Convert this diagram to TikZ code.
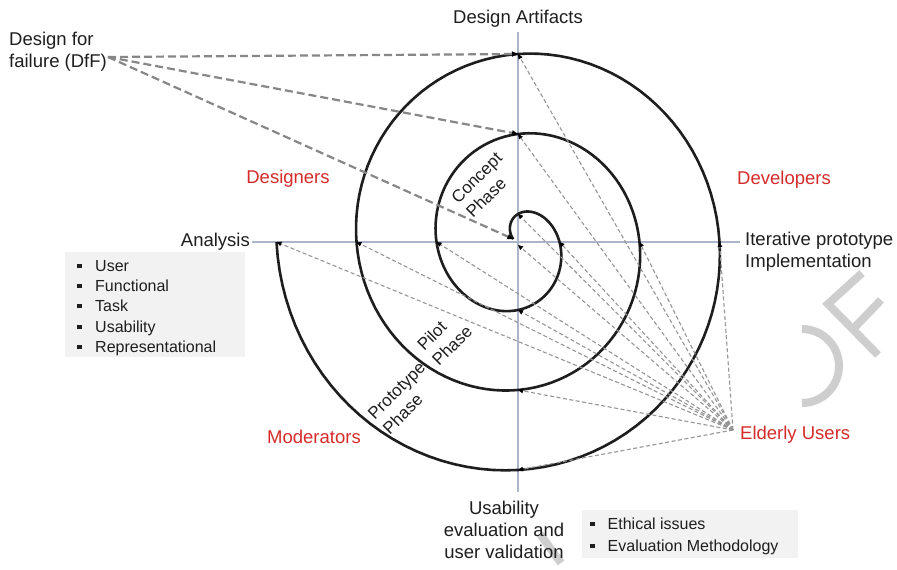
\documentclass[tikz,border=0pt]{standalone}
\usepackage{fontspec}
\setmainfont{Liberation Sans}
\usetikzlibrary{arrows.meta}
\definecolor{txt}{RGB}{30,30,30}
\definecolor{redlab}{RGB}{213,43,43}
\definecolor{axisc}{RGB}{172,182,202}
\definecolor{boxc}{RGB}{242,242,242}
\definecolor{dashc}{RGB}{150,150,150}
\definecolor{dffc}{RGB}{135,135,135}
\definecolor{wmc}{RGB}{206,206,206}
\newcommand{\sqbul}{\raisebox{2.6pt}{\rule{4.5pt}{4.5pt}}}
\begin{document}
\begin{tikzpicture}[x=1pt,y=-1pt,
  lab/.style={font=\fontsize{18.5}{22}\selectfont, text=txt, inner sep=0pt},
  redlabel/.style={lab, text=redlab},
  phase/.style={font=\fontsize{17}{21}\selectfont, text=txt, inner sep=0pt, align=left, rotate=45},
  item/.style={font=\fontsize{16}{20}\selectfont, text=txt, inner sep=0pt, anchor=base west},
  listbox/.style={fill=boxc, draw=none, inner sep=0pt, anchor=north west},
  axisline/.style={draw=axisc, line width=2pt},
  spiralline/.style={draw=txt, line width=2.6pt},
  eline/.style={draw=dashc, line width=1.1pt, dash pattern=on 4pt off 2.5pt, -{Triangle[length=5pt,width=4.5pt,color=black]}},
  dline/.style={draw=dffc, line width=2.2pt, dash pattern=on 8pt off 4pt, -{Triangle[length=6pt,width=5pt,color=black]}},
  wm/.style={draw=wmc, line width=8pt}
]
\fill[white] (0,0) rectangle (897,570);
\useasboundingbox (0,0) rectangle (897,570);

% watermark fragments
\draw[wm] (802,329) arc[start angle=-90, end angle=90, radius=37];
\draw[wm] (878,355) -- (828,304) -- (862,273);
\draw[wm] (853,329) -- (881,300);
\draw[wm] (540,534) -- (561,563);

% text nodes
\node[lab] (art) at (518,19) {Design Artifacts};
\node[lab, anchor=east] (ana) at (250,242) {Analysis};
\node[lab, anchor=west, align=left] (iter) at (745,251.5) {Iterative prototype\\Implementation};
\node[lab, align=center] (usab) at (504,530) {Usability\\evaluation and\\user validation};
\node[lab, anchor=west, align=left] (dfft) at (9,52) {Design for\\failure (DfF)};
\node[redlabel] (des) at (288,179) {Designers};
\node[redlabel] (dev) at (784,180) {Developers};
\node[redlabel] (mod) at (314,437) {Moderators};
\node[redlabel, anchor=west] (eld) at (740,435) {Elderly Users};

% list boxes
\node[listbox, minimum width=180pt, minimum height=105pt] (abox) at (65,252) {};
\foreach \y/\w in {271/User, 291/Functional, 311/Task, 332/Usability, 352/Representational}
  \node[item] (ai\y) at (77,\y) {\sqbul\hspace{13.5pt}\w};
\node[listbox, minimum width=216pt, minimum height=48pt] (ebox) at (582,510) {};
\foreach \y/\w in {529/Ethical issues, 551/Evaluation Methodology}
  \node[item] (ei\y) at (590,\y) {\sqbul\hspace{13pt}\w};

% axes
\draw[axisline] ([yshift=-4pt]art.south) -- (art.south |- usab.north) [shorten >=9pt];
\draw[axisline, shorten >=5pt] ([xshift=2pt]ana.east) -- (ana.east -| iter.west);

% spiral
\draw[spiralline] plot[domain=-75:990, samples=320] ({518+(21.5+\x/4.5)*sin(\x)},{242-(28+\x/4.5)*cos(\x)});
\foreach \t in {0,90,...,990}
  \coordinate (c\t) at ({518+(21.5+\t/4.5)*sin(\t)},{242-(28+\t/4.5)*cos(\t)});
\coordinate (s0) at ({518+(21.5-75/4.5)*sin(-75)},{242-(28-75/4.5)*cos(-75)});
\coordinate (ctr) at (518,245);
\coordinate (eu) at (733,430);
\coordinate (dff) at (108,57);

% phase labels
\node[phase] (concept) at (484,185) {Concept\\Phase};
\node[phase] (pilot) at (444.5,338) {Pilot\\Phase};
\node[phase] (proto) at (404,398) {Prototype\\Phase};

% connectors from Elderly Users
\foreach \t in {0,90,...,990}
  \draw[eline] (eu) -- (c\t);
\draw[eline] (eu) -- (ctr);

% connectors from DfF
\draw[dline] (dff) -- (c720);
\draw[dline] (dff) -- (c360);
\draw[dline] (dff) -- (s0);
\end{tikzpicture}
\end{document}
